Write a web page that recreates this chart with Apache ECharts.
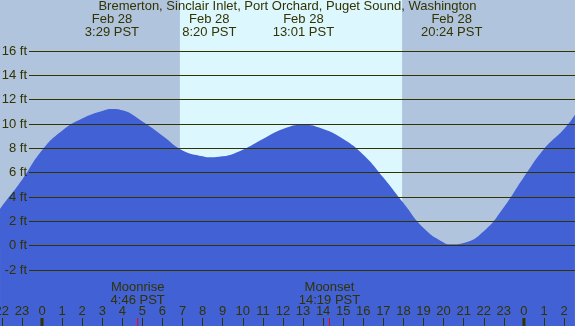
<!DOCTYPE html>
<html>
<head>
<meta charset="utf-8">
<script src="https://cdn.jsdelivr.net/npm/echarts@6/dist/echarts.min.js"></script>
<style>
  html, body { margin: 0; padding: 0; }
  #chart { width: 575px; height: 326px; }
</style>
</head>
<body>
<div id="chart"></div>
<script>
  // tide curve, hours from Feb 28 00:00 -> feet
  var hours   = [-2.09, -2, -1, 0, 1, 2, 3, 3.48, 4, 5, 6, 7, 8, 8.33, 9, 10, 11, 12, 13, 14, 15, 16, 17, 18, 19, 20, 20.4, 21, 22, 23, 24, 25, 26, 26.54];
  var heights = [3.01, 3.23, 5.4, 7.85, 9.45, 10.45, 11.06, 11.23, 11.12, 10.2, 9.04, 7.83, 7.34, 7.26, 7.34, 7.89, 8.77, 9.59, 9.94, 9.59, 8.77, 7.48, 5.6, 3.5, 1.45, 0.27, 0.11, 0.22, 1.18, 3.15, 5.64, 7.95, 9.59, 10.77];

  var extremeTimes = ['3:29', '8:20', '13:01', '20:24'];
  var extremeDate = 'Feb 28';
  var moonNames = ['Moonrise', 'Moonset'];
  var moonTimes = ['4:46', '14:19'];
  var sunrise = '6:52';
  var sunset = '17:56';
  var hourMin = -2, hourMax = 26;     // hour tick labels, shown modulo 24
  var midnights = [0, 24];
  var title = 'Bremerton, Sinclair Inlet, Port Orchard, Puget Sound, Washington';

  // layout
  var W = 575, H = 326;
  var X0 = 42, PX_H = 20.08;          // pixel of midnight, px per hour
  var Y_TOP = 51, Y_BOT = 270;        // pixels of 16 ft and -2 ft
  var PX_FT = (Y_BOT - Y_TOP) / 18;
  var xMin = -X0 / PX_H, xMax = (W - X0) / PX_H;
  var yMin = -2 - (H - Y_BOT) / PX_FT, yMax = 16 + Y_TOP / PX_FT;

  var ink = '#333300';
  var font = "'Liberation Sans', Arial, sans-serif";
  var fs = 13;

  function toH(t) {
    var p = t.split(':');
    return +p[0] + p[1] / 60;
  }

  var curve = hours.map(function (h, i) { return [h, heights[i]]; });

  var tops = extremeTimes.map(function (t) {
    return {
      coord: [toH(t), yMax],
      label: { formatter: extremeDate + '\n' + t + ' PST' }
    };
  });
  var moons = moonTimes.map(function (t, i) {
    return {
      coord: [toH(t), yMin],
      symbol: 'rect', symbolSize: [1, 8], symbolOffset: [0, -4],
      itemStyle: { color: '#ff0000' },
      label: { show: true, position: 'top', distance: 11, formatter: moonNames[i] + '\n' + t + ' PST' }
    };
  });
  var mids = midnights.map(function (h) {
    return {
      coord: [h, yMin],
      symbol: 'rect', symbolSize: [3, 8], symbolOffset: [0, -4],
      itemStyle: { color: ink },
      label: { show: false }
    };
  });

  var chart = echarts.init(document.getElementById('chart'));
  chart.setOption({
    animation: false,
    backgroundColor: '#b0c4de',
    textStyle: { fontFamily: font },
    title: {
      text: title, left: 'center', top: 0, padding: 0,
      textStyle: { fontSize: fs, fontWeight: 'normal', color: ink, fontFamily: font }
    },
    grid: [
      { left: 0, right: 0, top: 0, bottom: 0, containLabel: false, outerBoundsMode: 'none' },
      { left: 29, right: 0, top: Y_TOP, bottom: H - Y_BOT, containLabel: false, outerBoundsMode: 'none' },
      {
        left: X0 + hourMin * PX_H, right: W - (X0 + hourMax * PX_H), bottom: 0, height: 20,
        containLabel: false, outerBoundsMode: 'none'
      }
    ],
    xAxis: [{
      type: 'value', gridIndex: 0, min: xMin, max: xMax, show: false
    }, {
      type: 'value', gridIndex: 1, min: 0, max: 1, show: false
    }, {
      type: 'value', gridIndex: 2, min: hourMin, max: hourMax, interval: 1, z: 5,
      splitLine: { show: false },
      axisLine: { show: false },
      axisTick: { show: true, inside: true, length: 8, lineStyle: { color: ink } },
      axisLabel: {
        inside: true, margin: 8, color: ink, fontSize: fs, fontFamily: font,
        showMinLabel: true, showMaxLabel: true, hideOverlap: false,
        formatter: function (v) { return String(((v % 24) + 24) % 24); }
      }
    }],
    yAxis: [{
      type: 'value', gridIndex: 0, min: yMin, max: yMax, show: false
    }, {
      type: 'value', gridIndex: 1, min: -2, max: 16, interval: 2, z: 5,
      axisLine: { show: false }, axisTick: { show: false },
      splitLine: { show: true, lineStyle: { color: ink, width: 1 } },
      axisLabel: {
        margin: 2, color: ink, fontSize: fs, fontFamily: font,
        formatter: '{value} ft'
      }
    }, {
      type: 'value', gridIndex: 2, min: 0, max: 1, show: false
    }],
    series: [{
      type: 'line',
      data: curve,
      smooth: 0.5,
      symbol: 'none',
      lineStyle: { width: 0 },
      areaStyle: { color: '#4161d5', opacity: 1, origin: 'start' },
      markArea: {
        silent: true,
        itemStyle: { color: '#ddf7ff' },
        data: [[{ xAxis: toH(sunrise) }, { xAxis: toH(sunset) }]]
      },
      markPoint: {
        silent: true,
        symbol: 'circle', symbolSize: 0,
        label: {
          show: true, position: 'bottom', distance: 13, color: ink, fontSize: fs,
          lineHeight: 13, fontFamily: font
        },
        data: tops.concat(moons, mids)
      }
    }]
  });
</script>
</body>
</html>
